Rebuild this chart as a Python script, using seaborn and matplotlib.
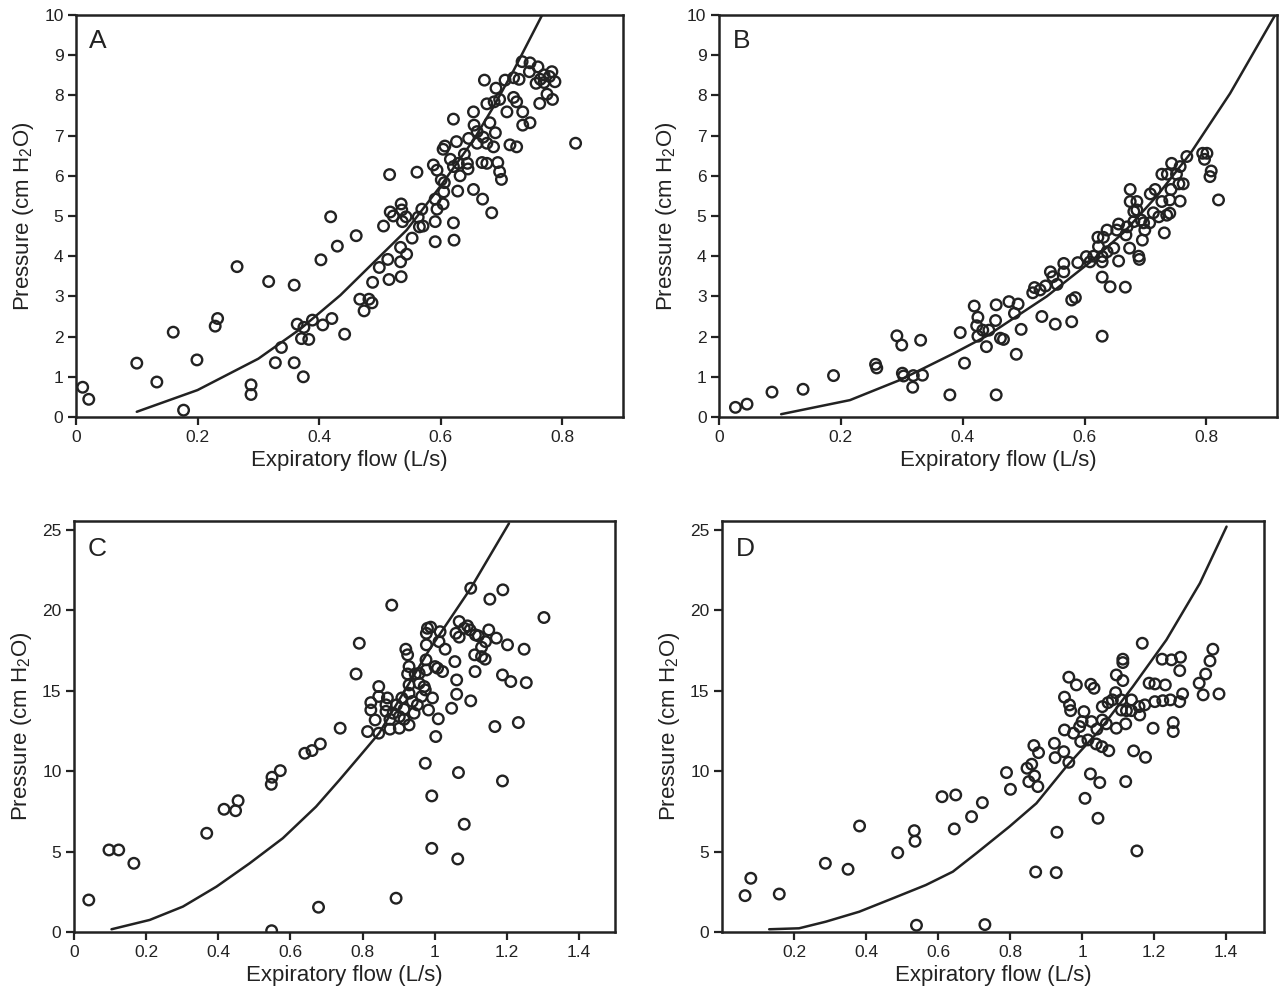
import numpy as np
import pandas as pd
import matplotlib
matplotlib.use('Agg')
import matplotlib.pyplot as plt
import seaborn as sns

sns.set_theme(style='ticks')
plt.rcParams['font.family'] = ['Liberation Sans', 'DejaVu Sans']
plt.rcParams['mathtext.default'] = 'regular'

# ---- data (flow L/s, pressure cm H2O) ----
a_pts = [(0.011, 0.74), (0.021, 0.44), (0.100, 1.34), (0.133, 0.87), (0.160, 2.11), (0.177, 0.17),
         (0.199, 1.42), (0.229, 2.26), (0.233, 2.45), (0.265, 3.74), (0.288, 0.80), (0.288, 0.56),
         (0.317, 3.37), (0.328, 1.35), (0.338, 1.73), (0.359, 3.28), (0.359, 1.35), (0.364, 2.31),
         (0.371, 1.95), (0.374, 1.00), (0.375, 2.23), (0.383, 1.93), (0.389, 2.41), (0.403, 3.91),
         (0.406, 2.29), (0.419, 4.98), (0.421, 2.45), (0.430, 4.25), (0.442, 2.06), (0.461, 4.51),
         (0.467, 2.93), (0.482, 2.93), (0.474, 2.64), (0.487, 2.84), (0.488, 3.35), (0.499, 3.72),
         (0.515, 3.42), (0.513, 3.92), (0.535, 3.49), (0.534, 3.86), (0.544, 4.05), (0.534, 4.22),
         (0.506, 4.75), (0.516, 6.03), (0.561, 6.09), (0.517, 5.10), (0.522, 5.00), (0.535, 5.30),
         (0.536, 5.15), (0.543, 4.98), (0.537, 4.86), (0.553, 4.45), (0.565, 4.73), (0.569, 5.17),
         (0.563, 4.97), (0.571, 4.75), (0.591, 4.86), (0.591, 4.36), (0.594, 5.17), (0.591, 5.42),
         (0.604, 5.30), (0.605, 5.60), (0.606, 5.83), (0.601, 5.90), (0.588, 6.27), (0.594, 6.14),
         (0.621, 4.83), (0.622, 4.40), (0.628, 5.62), (0.604, 6.66), (0.607, 6.74), (0.616, 6.41),
         (0.621, 6.23), (0.629, 6.31), (0.632, 6.00), (0.639, 6.54), (0.644, 6.31), (0.645, 6.17),
         (0.626, 6.85), (0.621, 7.41), (0.646, 6.93), (0.654, 5.66), (0.669, 5.42), (0.684, 5.08),
         (0.654, 7.59), (0.655, 7.26), (0.660, 7.10), (0.660, 6.81), (0.670, 6.96), (0.676, 6.81),
         (0.668, 6.33), (0.676, 6.31), (0.687, 6.72), (0.690, 7.07), (0.681, 7.32), (0.694, 6.33),
         (0.697, 6.10), (0.700, 5.91), (0.672, 8.38), (0.676, 7.79), (0.688, 7.84), (0.691, 8.18),
         (0.697, 7.90), (0.706, 8.38), (0.709, 7.59), (0.714, 6.77), (0.725, 6.72), (0.720, 8.44),
         (0.729, 8.40), (0.720, 7.95), (0.725, 7.84), (0.735, 7.59), (0.735, 7.26), (0.747, 7.32),
         (0.734, 8.84), (0.747, 8.81), (0.746, 8.59), (0.760, 8.71), (0.757, 8.30), (0.764, 8.40),
         (0.770, 8.32), (0.770, 8.51), (0.783, 8.59), (0.779, 8.47), (0.788, 8.34), (0.775, 8.03),
         (0.763, 7.80), (0.784, 7.90), (0.822, 6.81)]
a_fit_flow = [0.100, 0.200, 0.300, 0.370, 0.435, 0.544, 0.599, 0.654, 0.687, 0.720, 0.767]
a_fit_pres = [0.13, 0.67, 1.45, 2.20, 3.03, 4.65, 5.73, 6.89, 7.72, 8.62, 10.0]

b_pts = [(0.027, 0.24), (0.046, 0.32), (0.087, 0.62), (0.138, 0.69), (0.188, 1.03), (0.257, 1.31),
         (0.259, 1.22), (0.292, 2.02), (0.300, 1.79), (0.301, 1.09), (0.303, 1.02), (0.318, 0.74),
         (0.319, 1.03), (0.331, 1.91), (0.334, 1.04), (0.379, 0.55), (0.396, 2.10), (0.403, 1.34),
         (0.419, 2.76), (0.425, 2.48), (0.423, 2.27), (0.425, 2.01), (0.433, 2.16), (0.439, 1.75),
         (0.443, 2.16), (0.455, 2.79), (0.454, 2.40), (0.455, 0.55), (0.462, 1.96), (0.467, 1.93),
         (0.476, 2.87), (0.485, 2.58), (0.491, 2.81), (0.488, 1.56), (0.496, 2.18), (0.515, 3.09),
         (0.518, 3.22), (0.527, 3.16), (0.530, 2.50), (0.536, 3.26), (0.544, 3.61), (0.548, 3.49),
         (0.552, 2.31), (0.555, 3.30), (0.566, 3.82), (0.566, 3.61), (0.579, 2.91), (0.585, 2.97),
         (0.579, 2.37), (0.589, 3.84), (0.603, 3.99), (0.609, 3.86), (0.615, 4.00), (0.622, 4.47),
         (0.623, 4.24), (0.631, 4.47), (0.629, 3.86), (0.629, 3.99), (0.637, 4.11), (0.637, 4.65),
         (0.648, 4.20), (0.653, 4.65), (0.656, 3.88), (0.629, 3.48), (0.642, 3.24), (0.629, 2.01),
         (0.667, 3.23), (0.656, 4.80), (0.668, 4.53), (0.670, 4.73), (0.674, 4.20), (0.681, 4.86),
         (0.675, 5.66), (0.675, 5.36), (0.686, 5.36), (0.681, 5.11), (0.686, 5.15), (0.689, 4.00),
         (0.690, 3.92), (0.693, 4.90), (0.695, 4.40), (0.699, 4.65), (0.697, 4.83), (0.707, 4.83),
         (0.708, 5.55), (0.713, 5.08), (0.716, 5.66), (0.722, 4.98), (0.727, 5.36), (0.731, 4.58),
         (0.727, 6.04), (0.736, 6.04), (0.735, 5.02), (0.740, 5.07), (0.740, 5.40), (0.742, 5.66),
         (0.743, 6.31), (0.751, 6.04), (0.755, 5.80), (0.757, 6.23), (0.757, 5.37), (0.762, 5.80),
         (0.768, 6.48), (0.794, 6.56), (0.801, 6.56), (0.797, 6.41), (0.808, 6.12), (0.806, 5.98),
         (0.820, 5.40)]
b_fit_flow = [0.102, 0.215, 0.297, 0.385, 0.440, 0.538, 0.609, 0.665, 0.719, 0.774, 0.839, 0.913]
b_fit_pres = [0.07, 0.42, 0.92, 1.58, 2.02, 3.00, 3.85, 4.60, 5.50, 6.56, 8.05, 10.0]

c_pts = [(0.041, 1.99), (0.097, 5.10), (0.124, 5.10), (0.166, 4.27), (0.368, 6.14), (0.416, 7.63),
         (0.448, 7.54), (0.455, 8.16), (0.547, 9.18), (0.549, 9.62), (0.572, 10.03), (0.548, 0.08),
         (0.640, 11.11), (0.660, 11.28), (0.683, 11.69), (0.678, 1.54), (0.738, 12.67), (0.782, 16.04),
         (0.791, 17.95), (0.881, 20.32), (0.893, 2.10), (0.814, 12.46), (0.823, 14.26), (0.823, 13.80),
         (0.835, 13.18), (0.845, 15.26), (0.845, 14.64), (0.845, 12.36), (0.865, 14.12), (0.865, 13.72),
         (0.869, 14.55), (0.876, 13.22), (0.876, 12.61), (0.885, 13.60), (0.894, 14.12), (0.902, 12.67),
         (0.902, 13.39), (0.909, 14.55), (0.915, 13.85), (0.915, 13.22), (0.929, 14.84), (0.929, 12.87),
         (0.920, 17.58), (0.925, 17.23), (0.929, 16.50), (0.925, 16.04), (0.929, 15.36), (0.938, 14.33),
         (0.943, 13.60), (0.946, 16.04), (0.952, 14.12), (0.957, 16.08), (0.957, 15.46), (0.964, 14.64),
         (0.971, 15.26), (0.977, 16.29), (0.976, 16.92), (0.974, 15.05), (0.983, 13.80), (0.994, 14.55),
         (0.977, 17.85), (0.977, 18.57), (0.980, 18.88), (0.989, 18.95), (1.001, 16.50), (1.008, 16.40),
         (1.003, 12.15), (1.010, 13.25), (1.012, 18.05), (1.015, 18.67), (1.022, 16.19), (1.029, 17.58),
         (0.974, 10.49), (0.992, 8.46), (0.992, 5.20), (1.047, 13.91), (1.056, 16.81), (1.061, 15.67),
         (1.061, 14.78), (1.068, 19.30), (1.059, 18.57), (1.068, 18.33), (1.082, 18.88), (1.091, 19.03),
         (1.098, 18.78), (1.100, 21.37), (1.100, 14.37), (1.066, 9.91), (1.082, 6.70), (1.064, 4.54),
         (1.111, 17.23), (1.113, 18.47), (1.112, 16.19), (1.121, 18.41), (1.130, 17.70), (1.130, 17.12),
         (1.140, 16.96), (1.141, 18.05), (1.150, 18.78), (1.153, 20.69), (1.171, 18.27), (1.167, 12.77),
         (1.188, 15.98), (1.189, 21.27), (1.202, 17.85), (1.211, 15.57), (1.188, 9.39), (1.232, 13.02),
         (1.248, 17.58), (1.254, 15.50), (1.303, 19.55)]
c_fit_flow = [0.104, 0.210, 0.302, 0.395, 0.487, 0.579, 0.671, 0.736, 0.791, 0.846, 0.985, 1.100, 1.206]
c_fit_pres = [0.17, 0.75, 1.58, 2.82, 4.27, 5.83, 7.79, 9.45, 10.9, 12.36, 17.54, 21.37, 25.4]

d_pts = [(0.064, 2.26), (0.080, 3.34), (0.159, 2.36), (0.287, 4.27), (0.350, 3.90), (0.382, 6.59),
         (0.488, 4.93), (0.534, 6.30), (0.536, 5.64), (0.540, 0.42), (0.611, 8.41), (0.649, 8.52),
         (0.645, 6.41), (0.693, 7.17), (0.723, 8.04), (0.730, 0.46), (0.790, 9.91), (0.801, 8.87),
         (0.847, 10.18), (0.860, 10.43), (0.868, 9.70), (0.852, 9.35), (0.877, 9.04), (0.871, 3.73),
         (0.928, 3.69), (0.930, 6.20), (0.866, 11.59), (0.879, 11.15), (0.923, 11.73), (0.925, 10.84),
         (0.949, 11.21), (0.963, 10.55), (0.951, 12.56), (0.976, 12.36), (0.996, 11.84), (0.993, 12.77),
         (1.000, 13.08), (1.005, 13.70), (1.026, 13.08), (1.016, 11.94), (1.039, 11.69), (1.041, 12.61),
         (1.055, 11.52), (1.074, 11.27), (1.056, 13.18), (1.067, 12.94), (0.951, 14.60), (0.965, 14.12),
         (0.968, 13.76), (0.963, 15.84), (0.984, 15.36), (1.024, 15.40), (1.033, 15.15), (1.056, 14.01),
         (1.072, 14.26), (1.093, 14.88), (1.084, 14.43), (1.095, 15.98), (1.113, 15.63), (1.113, 16.96),
         (1.113, 16.75), (1.095, 12.67), (1.109, 14.43), (1.109, 13.80), (1.121, 12.94), (1.123, 13.76),
         (1.137, 14.43), (1.137, 13.76), (1.158, 14.01), (1.160, 13.49), (1.174, 14.12), (1.167, 17.95),
         (1.143, 11.26), (1.176, 10.86), (1.121, 9.35), (1.197, 12.67), (1.186, 15.47), (1.202, 15.42),
         (1.231, 15.36), (1.202, 14.32), (1.224, 14.38), (1.245, 14.43), (1.271, 14.32), (1.279, 14.80),
         (1.222, 16.96), (1.248, 16.92), (1.273, 17.08), (1.271, 16.25), (1.253, 13.02), (1.253, 12.46),
         (1.325, 15.47), (1.336, 14.74), (1.343, 16.04), (1.355, 16.85), (1.363, 17.58), (1.380, 14.80),
         (1.023, 9.83), (1.049, 9.29), (1.008, 8.31), (1.044, 7.07), (1.152, 5.04)]
d_fit_flow = [0.131, 0.214, 0.288, 0.381, 0.474, 0.566, 0.641, 0.706, 0.798, 0.873, 0.956, 1.049,
              1.141, 1.234, 1.327, 1.401]
d_fit_pres = [0.17, 0.23, 0.64, 1.26, 2.09, 2.92, 3.75, 4.89, 6.55, 8.00, 10.28, 12.56, 15.26,
              18.16, 21.68, 25.2]

xtick_small = [0, 0.2, 0.4, 0.6, 0.8]
xtick_big = [0, 0.2, 0.4, 0.6, 0.8, 1.0, 1.2, 1.4]
xtick_d = [0.2, 0.4, 0.6, 0.8, 1.0, 1.2, 1.4]
ytick_small = list(range(0, 11))
ytick_big = [0, 5, 10, 15, 20, 25]

INK = '#222222'
W, H = 1279, 996

panels = [
    # letter, points, fit x, fit y, rect (px: left, right, top, bottom), xlim, ylim, xticks, yticks, letter pos
    ('A', a_pts, a_fit_flow, a_fit_pres, (76, 623, 15, 417), 0.9, 10, xtick_small, ytick_small, (0.024, 0.965)),
    ('B', b_pts, b_fit_flow, b_fit_pres, (719, 1277, 15, 417), 0.916, 10, xtick_small, ytick_small, (0.024, 0.965)),
    ('C', c_pts, c_fit_flow, c_fit_pres, (74, 615, 521, 932), 1.5, 25.55, xtick_big, ytick_big, (0.026, 0.96)),
    ('D', d_pts, d_fit_flow, d_fit_pres, (722, 1264, 521, 932), 1.505, 25.55, xtick_d, ytick_big, (0.026, 0.96)),
]


def fmt_tick(v):
    s = f'{v:g}'
    return s


fig = plt.figure(figsize=(W / 100, H / 100), dpi=100)
fig.patch.set_facecolor('white')

for letter, pts, fx, fy, (l, r, t, b), xmax, ymax, xt, yt, lpos in panels:
    ax = fig.add_axes([l / W, 1 - b / H, (r - l) / W, (b - t) / H])
    df = pd.DataFrame(pts, columns=['flow', 'pressure'])
    sns.scatterplot(data=df, x='flow', y='pressure', ax=ax, marker='o', s=58,
                    facecolors='none', edgecolors=INK, linewidth=1.7, legend=False,
                    zorder=3)
    fit = pd.DataFrame({'flow': fx, 'pressure': fy})
    sns.lineplot(data=fit, x='flow', y='pressure', ax=ax, sort=False, estimator=None,
                 color=INK, linewidth=1.8, zorder=2)
    ax.set_xlim(0, xmax)
    ax.set_ylim(0, ymax)
    ax.set_xticks(xt)
    ax.set_xticklabels([fmt_tick(v) for v in xt])
    ax.set_yticks(yt)
    ax.set_yticklabels([fmt_tick(v) for v in yt])
    ax.tick_params(direction='out', length=6, width=1.6, colors=INK, labelsize=12.5, pad=3)
    for sp in ax.spines.values():
        sp.set_visible(True)
        sp.set_color(INK)
        sp.set_linewidth(1.8)
    ax.set_xlabel('Expiratory flow (L/s)', fontsize=16, color=INK, labelpad=4)
    ax.set_ylabel('Pressure (cm H$_2$O)', fontsize=16, color=INK, labelpad=6)
    ax.text(lpos[0], lpos[1], letter, transform=ax.transAxes, ha='left', va='top',
            fontsize=19, color=INK)
    ax.set_facecolor('white')
    ax.grid(False)

fig.savefig('out.png', dpi=100, facecolor='white')
